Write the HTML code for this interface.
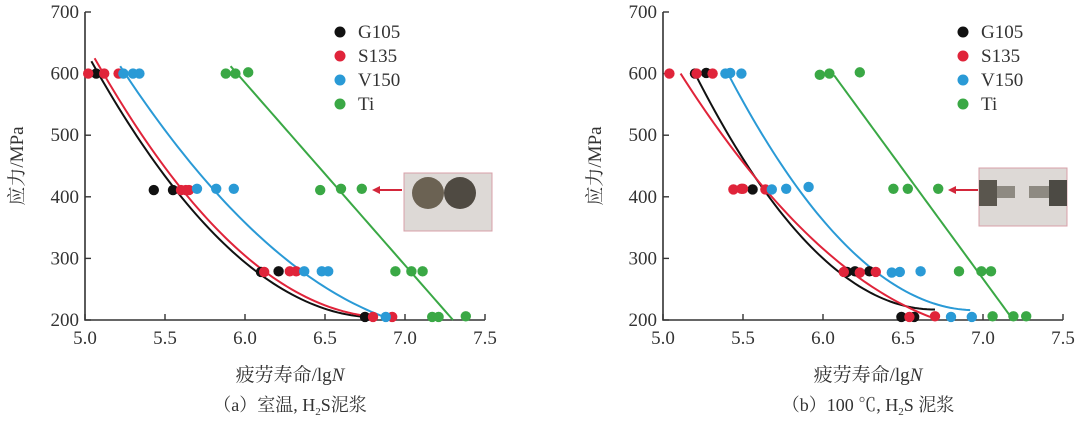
<!DOCTYPE html>
<html><head><meta charset="utf-8">
<style>
html,body{margin:0;padding:0;background:#fff;}
svg{display:block;font-family:"Liberation Serif","Noto Serif CJK SC",serif;}
</style></head>
<body>
<svg id="c" width="1080" height="429" viewBox="0 0 1080 429"></svg>
<script>
const seriesNames = ["G105","S135","V150","Ti"];
const seriesColors = ["#111111","#e0243a","#2a9ad6","#3aa845"];
const xTicks = [5.0,5.5,6.0,6.5,7.0,7.5];
const yTicks = [200,300,400,500,600,700];
// panel a points
const aG105 = [[5.07,600],[5.43,411],[5.55,411],[6.10,278],[6.21,279],[6.75,205]];
const aS135 = [[5.02,600],[5.12,600],[5.21,600],[5.60,411],[5.63,411],[5.65,411],[6.12,278],[6.28,279],[6.32,279],[6.80,205],[6.92,205]];
const aV150 = [[5.24,600],[5.30,600],[5.34,600],[5.70,413],[5.82,413],[5.93,413],[6.37,279],[6.48,279],[6.52,279],[6.88,205]];
const aTi = [[5.88,600],[5.94,600],[6.02,602],[6.47,411],[6.60,413],[6.73,413],[6.94,279],[7.04,279],[7.11,279],[7.17,205],[7.21,205],[7.38,206]];
// panel a fitted curves (quadratic knots)
const aFitG105 = [[5.04,620],[5.97,300],[6.75,205]];
const aFitS135 = [[5.06,625],[6.02,300],[6.82,205]];
const aFitV150 = [[5.22,612],[6.25,300],[6.87,205]];
const aFitTi = [[5.91,612],[7.30,200]];
// panel b points
const bG105 = [[5.20,600],[5.27,601],[5.56,412],[6.15,278],[6.20,279],[6.29,279],[6.49,205],[6.57,205]];
const bS135 = [[5.04,600],[5.21,600],[5.31,600],[5.44,412],[5.49,413],[5.50,413],[5.64,412],[6.13,278],[6.23,277],[6.33,278],[6.54,205],[6.70,206]];
const bV150 = [[5.39,600],[5.42,601],[5.49,600],[5.68,412],[5.77,413],[5.91,416],[6.43,277],[6.48,278],[6.61,279],[6.80,205],[6.93,205]];
const bTi = [[5.98,598],[6.04,600],[6.23,602],[6.44,413],[6.53,413],[6.72,413],[6.85,279],[6.99,279],[7.05,279],[7.06,206],[7.19,206],[7.27,206]];
const bFitG105 = [[5.20,600],[6.00,300],[6.70,217]];
const bFitS135 = [[5.11,600],[6.07,300],[6.67,205]];
const bFitV150 = [[5.41,598],[6.23,300],[6.92,216]];
const bFitTi = [[6.07,597],[7.18,203]];

const NS="http://www.w3.org/2000/svg";
const svg=document.getElementById('c');
function mk(t,a,p){const e=document.createElementNS(NS,t);for(const k in a)e.setAttribute(k,a[k]);(p||svg).appendChild(e);return e;}
function lagY(f,x){let s=0;for(let i=0;i<f.length;i++){let L=1;for(let j=0;j<f.length;j++)if(j!==i)L*=(x-f[j][0])/(f[i][0]-f[j][0]);s+=L*f[i][1];}return s;}

function panel(ox, pts, fits, caption, photoX, photoY, arrowFrom, arrowTo, pname){
  const x0=ox, x1=ox+400, yTop=12, yBot=320;
  const X=v=>x0+(v-5)/2.5*(x1-x0);
  const Y=v=>yBot-(v-200)/500*(yBot-yTop);
  const g=mk('g',{});
  
  
  const ax=mk('path',{d:`M${x0} ${yTop}V${yBot}H${x1}`,stroke:'#333',fill:'none','stroke-width':1.6},g);
  
  
  yTicks.forEach(t=>{
    mk('line',{x1:x0,x2:x0+6,y1:Y(t),y2:Y(t),stroke:'#333','stroke-width':1.4},g);
    const tx=mk('text',{x:x0-6,y:Y(t)+6,'text-anchor':'end','font-size':19,fill:'#333'},g);
    tx.textContent=t;
    
    
  });
  xTicks.forEach(t=>{
    mk('line',{x1:X(t),x2:X(t),y1:yBot,y2:yBot-6,stroke:'#333','stroke-width':1.4},g);
    const tx=mk('text',{x:X(t),y:yBot+24,'text-anchor':'middle','font-size':19,fill:'#333'},g);
    tx.textContent=t.toFixed(1);
    
    
  });
  fits.forEach((f,i)=>{
    const xA=f[0][0], xB=f[f.length-1][0];
    let d='';
    for(let k=0;k<=60;k++){const x=xA+(xB-xA)*k/60;d+=(k?'L':'M')+X(x).toFixed(2)+' '+Y(lagY(f,x)).toFixed(2);}
    const pa=mk('path',{d,stroke:seriesColors[i],fill:'none','stroke-width':2},g);
    
    
  });
  pts.forEach((s,i)=>{
    s.forEach(p=>{
      const c=mk('circle',{cx:X(p[0]),cy:Y(p[1]),r:5.2,fill:seriesColors[i]},g);
      
      
    });
  });
  const lx=ox+(pname==='panel-a'?255:300);
  seriesNames.forEach((n,i)=>{
    const le=mk('g',{},g);
    
    
    mk('circle',{cx:lx,cy:32+i*24,r:5.5,fill:seriesColors[i]},le);
    const t=mk('text',{x:lx+18,y:38+i*24,'font-size':19,fill:'#333'},le);
    t.textContent=n;
  });
  const ph=mk('g',{},g);
  
  
  mk('rect',{x:photoX,y:photoY,width:88,height:58,fill:'#ddd9d6',stroke:'#d8a0a8','stroke-width':1},ph);
  if(pname==='panel-a'){
    mk('ellipse',{cx:photoX+24,cy:photoY+20,rx:16,ry:16,fill:'#6b6253'},ph);
    mk('ellipse',{cx:photoX+56,cy:photoY+20,rx:16,ry:16,fill:'#4f4a42'},ph);
  }else{
    mk('rect',{x:photoX,y:photoY+12,width:18,height:26,fill:'#5a564e'},ph);
    mk('rect',{x:photoX+18,y:photoY+18,width:18,height:12,fill:'#8e8a82'},ph);
    mk('rect',{x:photoX+70,y:photoY+12,width:18,height:26,fill:'#4c4a44'},ph);
    mk('rect',{x:photoX+50,y:photoY+18,width:20,height:12,fill:'#8e8a82'},ph);
  }
  const ar=mk('g',{},g);
  
  
  mk('line',{x1:arrowFrom,x2:arrowTo+6,y1:190,y2:190,stroke:'#d3263a','stroke-width':2},ar);
  mk('path',{d:`M${arrowTo} 190l8 -4v8z`,fill:'#d3263a'},ar);
  const yt=mk('text',{x:0,y:0,'font-size':19,fill:'#333',transform:`translate(${ox-62},${166}) rotate(-90)`,'text-anchor':'middle'},g);
  yt.textContent='应力/MPa';
  
  
  const xt=mk('text',{x:ox+205,y:381,'font-size':19,fill:'#333','text-anchor':'middle'},g);
  xt.innerHTML='疲劳寿命/lg<tspan font-style="italic">N</tspan>';
  
  
  const cp=mk('text',{x:ox+205,y:411,'font-size':18,fill:'#333','text-anchor':'middle'},g);
  cp.innerHTML=caption;
  
  
}
panel(85,[aG105,aS135,aV150,aTi],[aFitG105,aFitS135,aFitV150,aFitTi],
 '（a）室温, H<tspan font-size="11" dy="4">2</tspan><tspan dy="-4">S泥浆</tspan>',404,173,402,372,'panel-a');
panel(663,[bG105,bS135,bV150,bTi],[bFitG105,bFitS135,bFitV150,bFitTi],
 '（b）100 ℃, H<tspan font-size="11" dy="4">2</tspan><tspan dy="-4">S 泥浆</tspan>',979,168,978,948,'panel-b');
</script>
</body></html>
